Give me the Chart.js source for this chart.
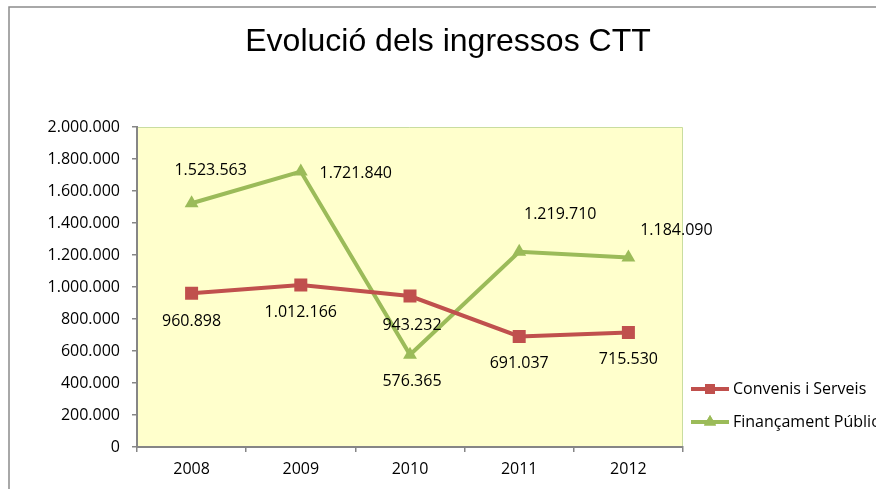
<!DOCTYPE html>
<html>
<head>
<meta charset="utf-8">
<script src="https://cdn.jsdelivr.net/npm/chart.js@4/dist/chart.umd.min.js"></script>
<style>
  html, body { margin: 0; padding: 0; background: #ffffff; }
  #wrap { width: 876px; height: 489px; position: relative; }
</style>
</head>
<body>
<div id="wrap"><canvas id="ingressosChart"></canvas></div>
<script>
const chartTitle = "Evolució dels ingressos CTT";
const years = ["2008", "2009", "2010", "2011", "2012"];
const convenisLabel = "Convenis i Serveis";
const convenisValues = [960898, 1012166, 943232, 691037, 715530];
const financamentLabel = "Finançament Públic";
const financamentValues = [1523563, 1721840, 576365, 1219710, 1184090];
const yMin = 0;
const yMax = 2000000;
const yStep = 200000;

// where each data label sits relative to its point (pixels)
const convenisLabelOffsets = [[0, 28], [0, 27], [2, 29], [0, 27], [0, 27]];
const financamentLabelOffsets = [[19, -33], [55, 2], [2, 27], [41, -37], [48, -27]];

const labelFont = "16px 'Open Sans'";
const red = "#C0504D";
const green = "#9BBB59";

function formatNumber(value) {
  return String(Math.round(value)).replace(/\B(?=(\d{3})+(?!\d))/g, ".");
}

const decorPlugin = {
  id: "decor",
  beforeDraw(chart) {
    const ctx = chart.ctx;
    const area = chart.chartArea;
    ctx.save();
    ctx.fillStyle = "#ffffff";
    ctx.fillRect(0, 0, chart.width, chart.height);
    // outer chart frame
    ctx.strokeStyle = "#8c8c8c";
    ctx.lineWidth = 1.5;
    ctx.strokeRect(9, 7, chart.width + 20, chart.height + 20);
    // plot area
    ctx.fillStyle = "#FFFFCC";
    ctx.fillRect(area.left, area.top, area.right - area.left, area.bottom - area.top);
    ctx.strokeStyle = "#C9DDA0";
    ctx.lineWidth = 1;
    ctx.beginPath();
    ctx.moveTo(area.left, area.top + 0.5);
    ctx.lineTo(area.right - 0.5, area.top + 0.5);
    ctx.lineTo(area.right - 0.5, area.bottom);
    ctx.stroke();
    // title
    ctx.fillStyle = "#000000";
    ctx.font = "32px 'Liberation Sans', Arial, sans-serif";
    ctx.textAlign = "center";
    ctx.textBaseline = "alphabetic";
    ctx.fillText(chartTitle, 448, 51);
    ctx.restore();
  },
  afterDatasetsDraw(chart) {
    const ctx = chart.ctx;
    ctx.save();
    ctx.font = labelFont;
    ctx.fillStyle = "#000000";
    ctx.textAlign = "center";
    ctx.textBaseline = "middle";
    const offsets = [convenisLabelOffsets, financamentLabelOffsets];
    chart.data.datasets.forEach((dataset, i) => {
      const meta = chart.getDatasetMeta(i);
      meta.data.forEach((point, j) => {
        const [dx, dy] = offsets[i][j];
        ctx.fillText(formatNumber(dataset.data[j]), point.x + dx, point.y + dy);
      });
    });

    // legend
    const legendItems = [
      { text: convenisLabel, color: red, style: "rect", y: 389 },
      { text: financamentLabel, color: green, style: "triangle", y: 422 },
    ];
    legendItems.forEach((item) => {
      ctx.strokeStyle = item.color;
      ctx.lineWidth = 4;
      ctx.beginPath();
      ctx.moveTo(691, item.y);
      ctx.lineTo(729, item.y);
      ctx.stroke();
      ctx.fillStyle = item.color;
      Chart.helpers.drawPoint(ctx, { pointStyle: item.style, radius: 7, borderWidth: 0 }, 710, item.y);
      ctx.fill();
      ctx.fillStyle = "#000000";
      ctx.textAlign = "left";
      ctx.fillText(item.text, 733, item.y);
    });
    ctx.restore();
  },
};

const ctx = document.getElementById("ingressosChart");

new Chart(ctx, {
  type: "line",
  data: {
    labels: years,
    datasets: [
      {
        label: convenisLabel,
        data: convenisValues,
        borderColor: red,
        backgroundColor: red,
        borderWidth: 4,
        pointStyle: "rect",
        pointRadius: 9.2,
        pointBorderWidth: 0,
        tension: 0,
      },
      {
        label: financamentLabel,
        data: financamentValues,
        borderColor: green,
        backgroundColor: green,
        borderWidth: 4,
        pointStyle: "triangle",
        pointRadius: 8,
        pointBorderWidth: 0,
        tension: 0,
      },
    ],
  },
  options: {
    responsive: true,
    maintainAspectRatio: false,
    animation: false,
    layout: {
      padding: { left: 0, top: 127, right: 193, bottom: 0 },
    },
    plugins: {
      legend: { display: false },
      title: { display: false },
      tooltip: { enabled: false },
    },
    scales: {
      x: {
        offset: true,
        grid: {
          display: true,
          offset: true,
          drawOnChartArea: false,
          drawTicks: true,
          tickLength: 5,
          color: "#868686",
          lineWidth: 1.5,
        },
        border: { display: true, color: "#868686", width: 2 },
        ticks: {
          color: "#000000",
          font: { family: "'Open Sans'", size: 16 },
          padding: 8,
          maxRotation: 0,
        },
        afterFit(scale) {
          scale.height = 42;
        },
      },
      y: {
        min: yMin,
        max: yMax,
        grid: {
          display: true,
          drawOnChartArea: false,
          drawTicks: true,
          tickLength: 5,
          color: "#868686",
          lineWidth: 1.5,
        },
        border: { display: true, color: "#868686", width: 2 },
        ticks: {
          stepSize: yStep,
          color: "#000000",
          font: { family: "'Open Sans'", size: 16 },
          padding: 12,
          callback: (value) => formatNumber(value),
        },
        afterFit(scale) {
          scale.width = 137;
        },
      },
    },
  },
  plugins: [decorPlugin],
});
</script>
</body>
</html>
